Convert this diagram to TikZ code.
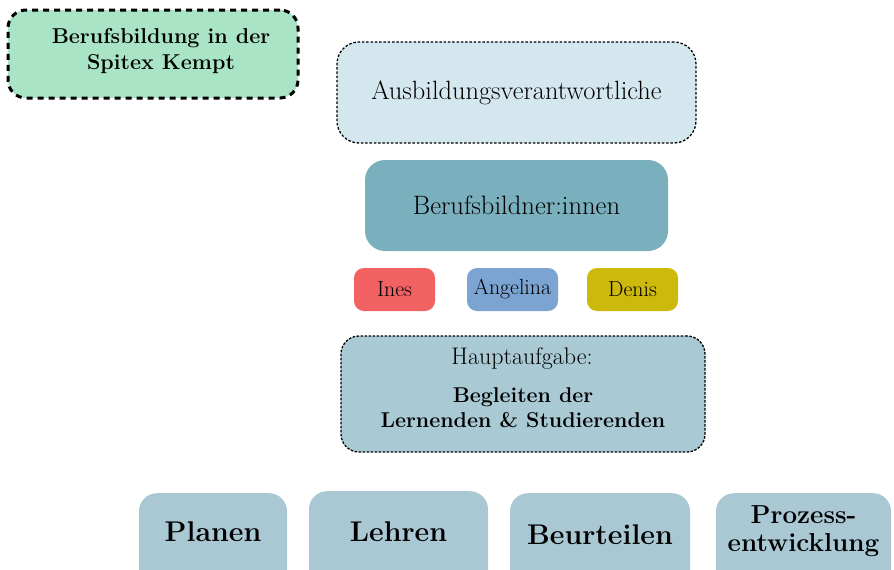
\documentclass[tikz,border=0pt]{standalone}
\usepackage{xcolor}
\definecolor{mint}{HTML}{A9E4C6}
\definecolor{paleblue}{HTML}{D4E7EE}
\definecolor{tealblue}{HTML}{7AAFBD}
\definecolor{greyblue}{HTML}{A9CAD5}
\definecolor{bottomblue}{HTML}{A9C8D3}
\definecolor{inesred}{HTML}{F26262}
\definecolor{angblue}{HTML}{7BA4D2}
\definecolor{denisyellow}{HTML}{CDB80C}
\begin{document}
\begin{tikzpicture}[x=1pt,y=-1pt,
  box/.style={rounded corners=#1, inner sep=0pt, align=center},
  box/.default=18pt,
  titlebox/.style={box=18pt, fill=mint, draw=black, line width=3pt, dash pattern=on 6pt off 5pt, minimum width=290pt, minimum height=88pt},
  titletext/.style={align=center, inner sep=0pt, font=\fontsize{21.5}{26}\selectfont\bfseries},
  respbox/.style={box=22pt, fill=paleblue, draw=black, line width=1.3pt, dash pattern=on 2.5pt off 1.8pt, minimum width=359pt, minimum height=101pt, font=\fontsize{26.4}{30}\selectfont},
  bbbox/.style={box=20pt, fill=tealblue, minimum width=303pt, minimum height=91pt, font=\fontsize{26.6}{30}\selectfont},
  namebox/.style={box=10pt, fill=#1, minimum height=43pt, font=\fontsize{21.8}{24}\selectfont},
  taskbox/.style={box=18pt, fill=greyblue, draw=black, line width=1.3pt, dash pattern=on 2.5pt off 1.5pt, minimum width=364pt, minimum height=116pt},
  bottombox/.style={box=18pt, fill=bottomblue, minimum height=110pt, anchor=north},
  btext/.style={align=center, inner sep=0pt, font=\fontsize{28.5}{32}\selectfont\bfseries},
  ptext/.style={align=center, inner sep=0pt, font=\fontsize{26}{28}\selectfont\bfseries}
]
\useasboundingbox (0,0) rectangle (894,570);
\clip (0,0) rectangle (894,570);

\node[titlebox] (title) at (153,54) {};
\node[titletext] (titlelabel) at (161,51) {Berufsbildung in der\\Spitex Kempt};
\node[respbox] (resp) at (516.5,92.5) {Ausbildungsverantwortliche};
\node[bbbox] (bb) at (516.5,205.5) {Berufsbildner:innen};

\node[namebox=inesred, minimum width=81pt] (ines) at (394.5,289.5) {Ines};
\node[namebox=angblue, minimum width=91pt] (angelina) at (512.5,289.5) {Angelina};
\node[namebox=denisyellow, minimum width=91pt] (denis) at (632.5,289.5) {Denis};

\node[taskbox] (task) at (523,394) {};
\node[inner sep=0pt, font=\fontsize{24}{28}\selectfont] (tasklabel) at (522,359) {Hauptaufgabe:};
\node[inner sep=0pt, align=center, font=\fontsize{21.4}{25}\selectfont\bfseries] (tasktext) at (523,408) {Begleiten der\\Lernenden \& Studierenden};

\node[bottombox, minimum width=148pt] (planen) at (213,493) {};
\node[bottombox, minimum width=179pt] (lehren) at (398.5,491) {};
\node[bottombox, minimum width=180pt] (beurteilen) at (600,493) {};
\node[bottombox, minimum width=175pt] (prozess) at (803.5,493) {};

\node[btext] (planentext) at ([yshift=-39pt]planen.north) {Planen};
\node[btext] (lehrentext) at ([yshift=-41pt]lehren.north) {Lehren};
\node[btext] (beurteilentext) at ([yshift=-42pt]beurteilen.north) {Beurteilen};
\node[ptext] (prozesstext) at ([yshift=-38pt]prozess.north) {Prozess-\\entwicklung};
\end{tikzpicture}
\end{document}
